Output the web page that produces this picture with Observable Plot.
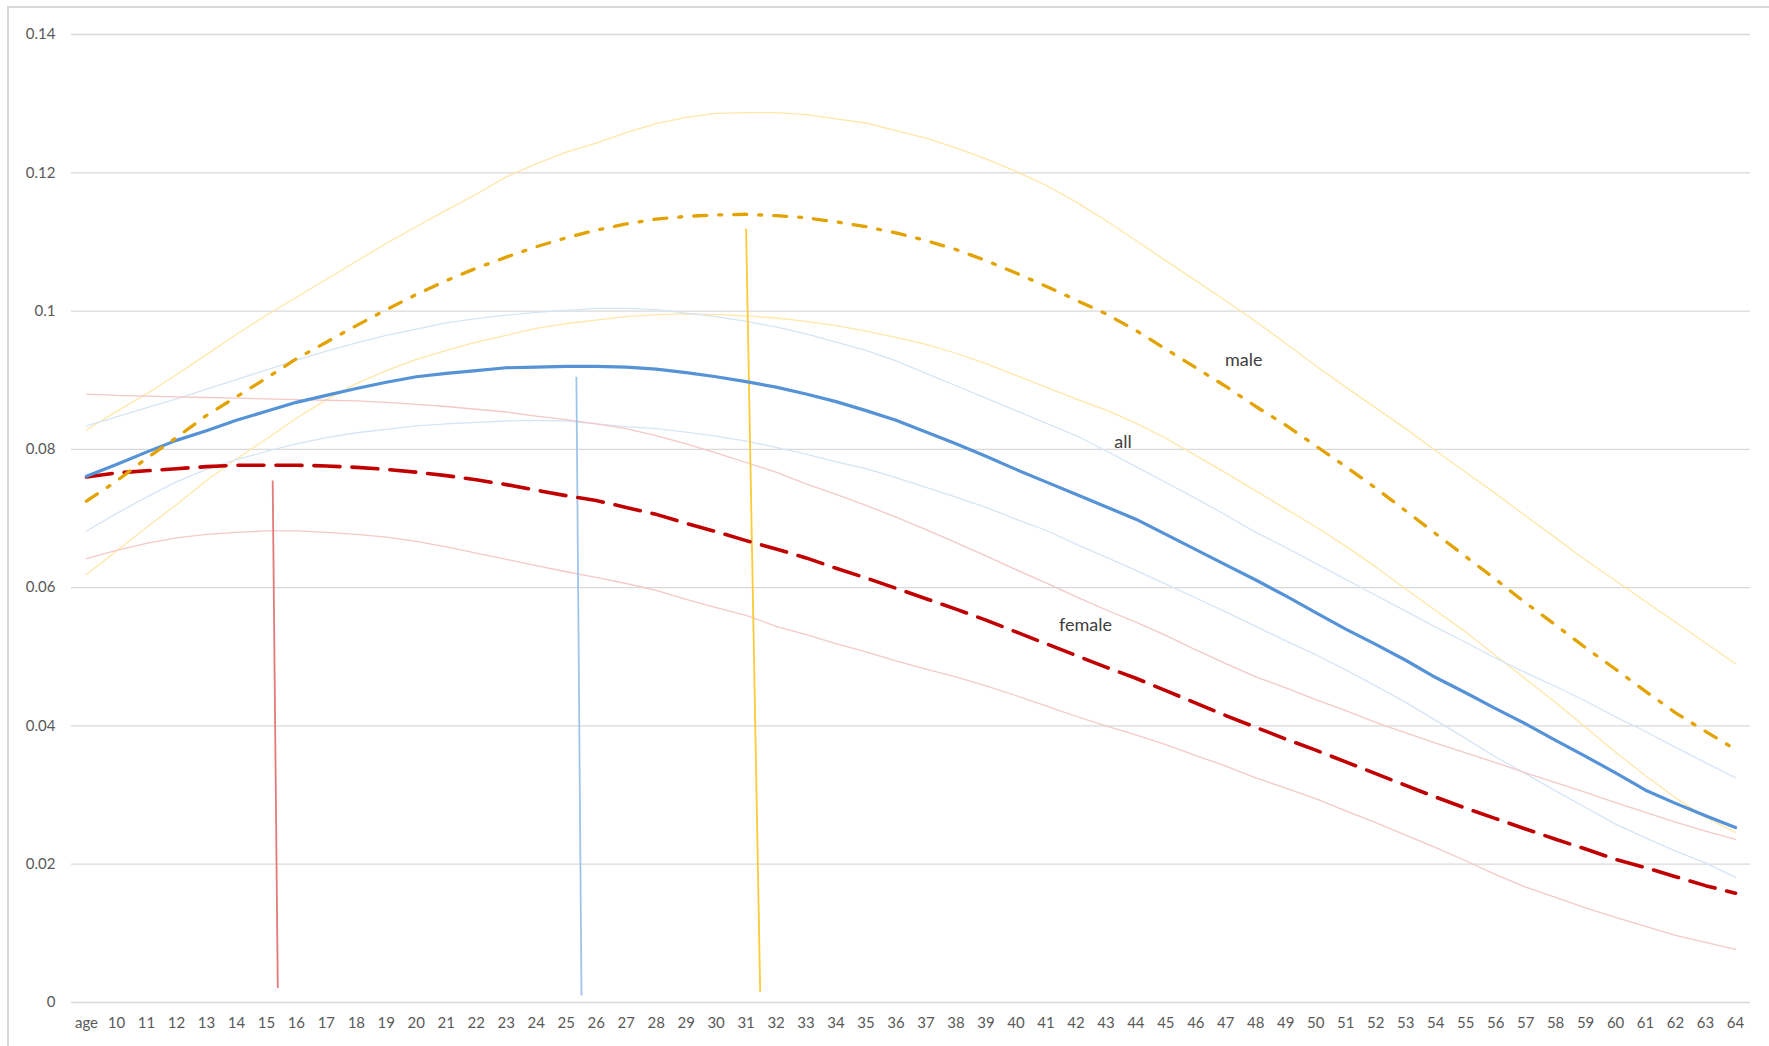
<!DOCTYPE html>
<html>
<head>
<meta charset="utf-8">
<script src="https://cdn.jsdelivr.net/npm/d3@7"></script>
<script src="https://cdn.jsdelivr.net/npm/@observablehq/plot@0.6"></script>
<style>
  html, body { margin: 0; padding: 0; background: #fff; overflow: hidden; }
  #frame { position: absolute; left: 7px; top: 6px; width: 1800px; height: 1100px; border: 2px solid #d9d9d9; box-sizing: border-box; }
  #chart { position: absolute; left: 0; top: 0; }
</style>
</head>
<body>
<div id="frame"></div>
<div id="chart"></div>
<script>
// Category positions (first category is the header cell "age")
const ages = [9,10,11,12,13,14,15,16,17,18,19,20,21,22,23,24,25,26,27,28,29,30,31,32,33,34,35,36,37,38,39,40,41,42,43,44,45,46,47,48,49,50,51,52,53,54,55,56,57,58,59,60,61,62,63,64];
const tickLabels = ["age","10","11","12","13","14","15","16","17","18","19","20","21","22","23","24","25","26","27","28","29","30","31","32","33","34","35","36","37","38","39","40","41","42","43","44","45","46","47","48","49","50","51","52","53","54","55","56","57","58","59","60","61","62","63","64"];
const yTicks = [0, 0.02, 0.04, 0.06, 0.08, 0.1, 0.12, 0.14];

const maleMain = [0.0725,0.0754,0.0787,0.0817,0.0849,0.0876,0.0903,0.0931,0.0955,0.0979,0.1002,0.1024,0.1044,0.1062,0.1078,0.1093,0.1106,0.1117,0.1126,0.1133,0.1137,0.1139,0.1140,0.1138,0.1135,0.1129,0.1122,0.1113,0.1102,0.1089,0.1073,0.1055,0.1036,0.1016,0.0996,0.0972,0.0945,0.0918,0.0891,0.0862,0.0835,0.0805,0.0775,0.0744,0.0711,0.0678,0.0645,0.0612,0.0578,0.0546,0.0513,0.0482,0.0450,0.0419,0.0392,0.0366];
const maleUpper = [0.0828,0.0855,0.0880,0.0908,0.0937,0.0966,0.0994,0.1020,0.1046,0.1072,0.1098,0.1122,0.1146,0.1169,0.1194,0.1213,0.1230,0.1243,0.1258,0.1271,0.1280,0.1286,0.1287,0.1287,0.1284,0.1278,0.1272,0.1261,0.1250,0.1236,0.1220,0.1202,0.1182,0.1158,0.1131,0.1102,0.1073,0.1044,0.1015,0.0985,0.0953,0.0921,0.0890,0.0860,0.0830,0.0798,0.0767,0.0736,0.0704,0.0672,0.0640,0.0610,0.0580,0.0550,0.0520,0.0490];
const maleLower = [0.0619,0.0653,0.0687,0.0720,0.0755,0.0786,0.0815,0.0845,0.0872,0.0895,0.0914,0.0930,0.0943,0.0955,0.0965,0.0975,0.0982,0.0987,0.0992,0.0995,0.0996,0.0995,0.0993,0.0990,0.0985,0.0979,0.0971,0.0962,0.0952,0.0939,0.0924,0.0907,0.0890,0.0873,0.0857,0.0838,0.0816,0.0791,0.0766,0.0740,0.0714,0.0688,0.0660,0.0630,0.0598,0.0567,0.0536,0.0502,0.0468,0.0434,0.0398,0.0362,0.0328,0.0296,0.0268,0.0246];

const allMain = [0.0761,0.0778,0.0796,0.0813,0.0827,0.0842,0.0855,0.0868,0.0878,0.0888,0.0897,0.0905,0.0910,0.0914,0.0918,0.0919,0.0920,0.0920,0.0919,0.0916,0.0911,0.0905,0.0898,0.0890,0.0880,0.0869,0.0856,0.0842,0.0825,0.0808,0.0790,0.0771,0.0753,0.0735,0.0717,0.0699,0.0677,0.0655,0.0633,0.0611,0.0588,0.0564,0.0540,0.0518,0.0495,0.0470,0.0448,0.0425,0.0403,0.0379,0.0356,0.0332,0.0307,0.0288,0.0270,0.0253];
const allUpper = [0.0834,0.0847,0.0860,0.0873,0.0887,0.0901,0.0915,0.0929,0.0942,0.0954,0.0965,0.0974,0.0983,0.0989,0.0994,0.0998,0.1001,0.1004,0.1004,0.1002,0.0997,0.0992,0.0985,0.0977,0.0967,0.0955,0.0943,0.0928,0.0910,0.0892,0.0874,0.0856,0.0838,0.0820,0.0798,0.0775,0.0752,0.0729,0.0705,0.0680,0.0658,0.0635,0.0612,0.0589,0.0566,0.0543,0.0521,0.0498,0.0477,0.0457,0.0436,0.0413,0.0392,0.0369,0.0347,0.0325];
const allLower = [0.0682,0.0707,0.0731,0.0753,0.0771,0.0785,0.0797,0.0808,0.0817,0.0824,0.0829,0.0834,0.0837,0.0839,0.0841,0.0842,0.0841,0.0837,0.0833,0.0830,0.0825,0.0819,0.0812,0.0803,0.0793,0.0782,0.0772,0.0759,0.0745,0.0731,0.0716,0.0699,0.0683,0.0663,0.0644,0.0625,0.0605,0.0585,0.0565,0.0544,0.0523,0.0503,0.0481,0.0458,0.0434,0.0408,0.0382,0.0355,0.0331,0.0306,0.0282,0.0258,0.0238,0.0219,0.0202,0.0181];

const femaleMain = [0.0760,0.0766,0.0769,0.0772,0.0775,0.0777,0.0777,0.0777,0.0776,0.0774,0.0771,0.0767,0.0762,0.0756,0.0749,0.0741,0.0733,0.0726,0.0716,0.0706,0.0693,0.0681,0.0668,0.0656,0.0643,0.0628,0.0614,0.0599,0.0584,0.0569,0.0553,0.0536,0.0519,0.0502,0.0485,0.0469,0.0451,0.0433,0.0415,0.0398,0.0381,0.0365,0.0348,0.0331,0.0314,0.0297,0.0281,0.0266,0.0251,0.0236,0.0222,0.0207,0.0195,0.0182,0.0169,0.0158];
const femaleUpper = [0.0880,0.0878,0.0877,0.0876,0.0875,0.0874,0.0873,0.0872,0.0871,0.0870,0.0868,0.0865,0.0862,0.0858,0.0854,0.0848,0.0843,0.0837,0.0830,0.0820,0.0808,0.0795,0.0781,0.0767,0.0750,0.0735,0.0719,0.0702,0.0684,0.0665,0.0646,0.0626,0.0607,0.0587,0.0568,0.0550,0.0531,0.0510,0.0490,0.0471,0.0455,0.0438,0.0422,0.0405,0.0390,0.0375,0.0361,0.0347,0.0332,0.0318,0.0304,0.0289,0.0275,0.0261,0.0248,0.0236];
const femaleLower = [0.0642,0.0654,0.0664,0.0672,0.0677,0.0680,0.0682,0.0682,0.0680,0.0677,0.0673,0.0667,0.0659,0.0650,0.0641,0.0632,0.0623,0.0615,0.0606,0.0596,0.0583,0.0571,0.0560,0.0544,0.0532,0.0519,0.0507,0.0494,0.0482,0.0471,0.0458,0.0444,0.0429,0.0414,0.0400,0.0387,0.0373,0.0357,0.0342,0.0325,0.0310,0.0295,0.0277,0.0260,0.0242,0.0224,0.0205,0.0185,0.0167,0.0152,0.0137,0.0123,0.0110,0.0097,0.0087,0.0077];

// Peak marker lines (female, all, male)
const markerTopAge = [15.21, 25.34, 31.00];
const markerBottomAge = [15.38, 25.51, 31.47];
const markerTopValue = [0.0755, 0.0905, 0.1119];
const markerBottomValue = [0.0021, 0.0010, 0.0015];
const markerColor = ["#e47a7a", "#9fc4ea", "#ffca38"];

// Series labels
const labelText = ["male", "all", "female"];
const labelAge = [47.6, 43.57, 42.32];
const labelValue = [0.0929, 0.0810, 0.0545];

const rows = s => ages.map((a, i) => ({age: a, v: s[i]}));
const thin = (s, color) => Plot.line(rows(s), {x: "age", y: "v", stroke: color, strokeWidth: 1.3});

const markers = markerTopAge.map((a, i) => ({x1: a, x2: markerBottomAge[i], y1: markerTopValue[i], y2: markerBottomValue[i], c: markerColor[i]}));
const labels = labelText.map((t, i) => ({t, x: labelAge[i], y: labelValue[i]}));

const chart = Plot.plot({
  width: 1769,
  height: 1046,
  marginLeft: 71,
  marginRight: 19,
  marginTop: 34,
  marginBottom: 44,
  style: {fontFamily: "Lato, 'Open Sans', sans-serif", fontSize: "15px", color: "#595959", background: "transparent"},
  x: {type: "linear", domain: [8.5, 64.5]},
  y: {domain: [0, 0.14]},
  marks: [
    Plot.gridY(yTicks, {stroke: "#d9d9d9", strokeOpacity: 1, strokeWidth: 1.3}),
    Plot.axisY(yTicks, {tickSize: 0, tickPadding: 16, label: null, tickFormat: d => String(+d.toFixed(2)), fill: "#595959"}),
    Plot.axisX(ages, {tickSize: 0, tickPadding: 15, label: null, tickFormat: d => tickLabels[ages.indexOf(d)], fill: "#595959"}),
    thin(maleUpper, "#ffe7a8"),
    thin(maleLower, "#ffe7a8"),
    thin(allUpper, "#d6e5f6"),
    thin(allLower, "#d6e5f6"),
    thin(femaleUpper, "#f4c8c8"),
    thin(femaleLower, "#f4c8c8"),
    Plot.link(markers, {x1: "x1", y1: "y1", x2: "x2", y2: "y2", stroke: "c", strokeWidth: 1.8}),
    Plot.line(rows(femaleMain), {x: "age", y: "v", stroke: "#c00000", strokeWidth: 3.6, strokeDasharray: "26,12"}),
    Plot.line(rows(allMain), {x: "age", y: "v", stroke: "#5592d6", strokeWidth: 3.2}),
    Plot.line(rows(maleMain), {x: "age", y: "v", stroke: "#e2a300", strokeWidth: 3.3, strokeDasharray: "13,12,3,12"}),
    Plot.text(labels, {x: "x", y: "y", text: "t", fill: "#404040", fontSize: 18})
  ]
});
document.getElementById("chart").appendChild(chart);
</script>
</body>
</html>
